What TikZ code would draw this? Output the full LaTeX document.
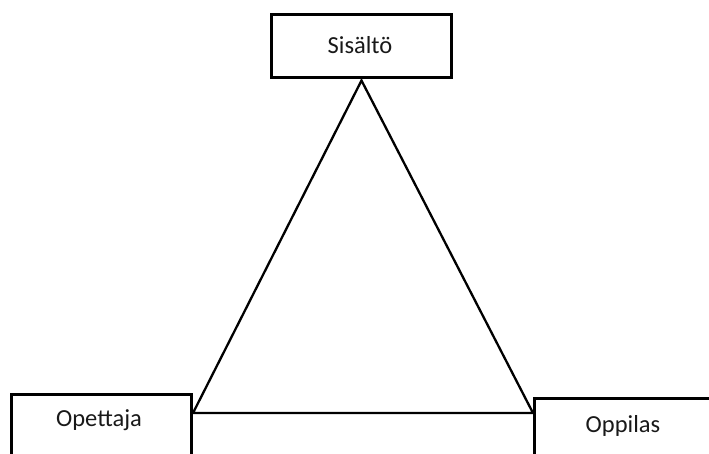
\documentclass[tikz,border=0pt]{standalone}
\usepackage{fontspec}
\setmainfont{Carlito}
\begin{document}
\begin{tikzpicture}[x=1pt,y=-1pt,
  box/.style={draw=black,line width=3pt,rectangle,fill=white,inner sep=0pt},
  lbl/.style={font=\fontsize{24.5}{28}\selectfont,text=black!90,inner sep=0pt},
  edge/.style={draw=black,line width=2.3pt,line join=miter}]
\useasboundingbox (0,0) rectangle (709,454);
\clip (0,0) rectangle (709,454);
\node[box,minimum width=180pt,minimum height=63pt,anchor=north west] (sisalto) at (270,13) {};
\node[box,minimum width=180pt,minimum height=75pt,anchor=north west] (opettaja) at (10,393) {};
\node[box,minimum width=190pt,minimum height=75pt,anchor=north west] (oppilas) at (533,397) {};
\coordinate (apex) at ([yshift=-1.5pt]sisalto.south);
\coordinate (lv) at ([yshift=-20pt]opettaja.north east);
\coordinate (rv) at ([yshift=-16pt]oppilas.north west);
\draw[edge] (lv) -- (apex) -- (rv) -- cycle;
\node[lbl] (t1) at (360,45) {Sisältö};
\node[lbl] (t2) at (99,420) {Opettaja};
\node[lbl] (t3) at (623,426) {Oppilas};
\end{tikzpicture}
\end{document}
